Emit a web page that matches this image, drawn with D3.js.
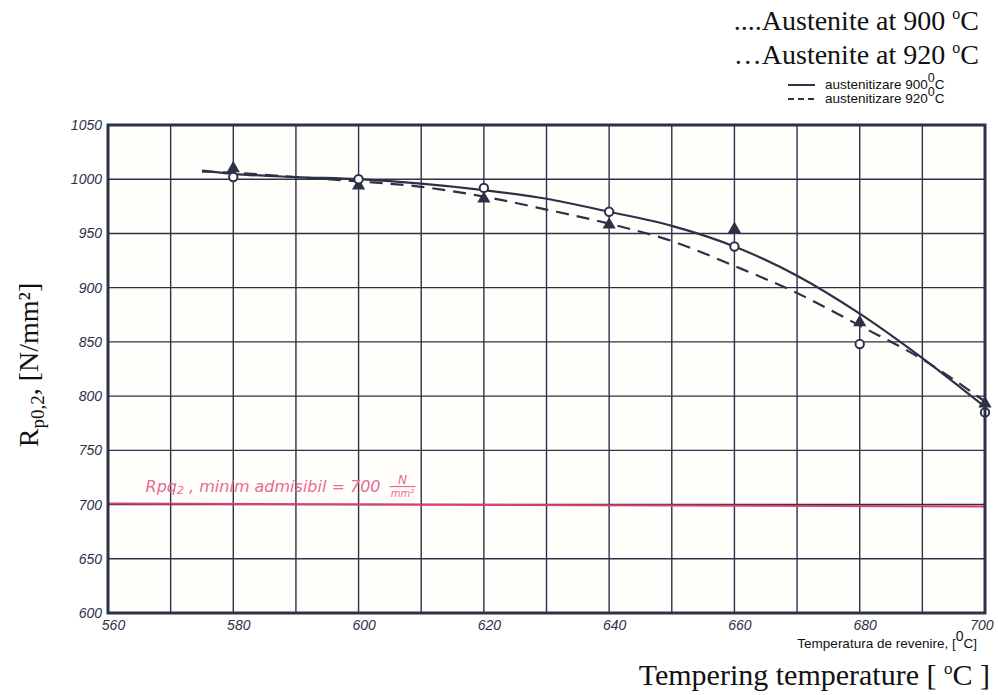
<!DOCTYPE html>
<html>
<head>
<meta charset="utf-8">
<script src="https://cdn.jsdelivr.net/npm/d3@7"></script>
<style>
  body { margin: 0; background: #fff; }
  svg { display: block; }
  .tick text { font-family: "Liberation Sans", sans-serif; font-style: italic; font-size: 14px; fill: #2c3148; }
</style>
</head>
<body>
<svg width="998" height="695"></svg>
<script>
// measured points
const temps = [580, 600, 620, 640, 660, 680, 700]
const rp900 = [1002, 1000, 992, 970, 938, 848, 785]
const rp920 = [1010, 994, 982, 958, 954, 868, 793]

// hand-drawn curves, read at every grid line
const curveTemps = [575, 580, 590, 600, 610, 620, 630, 640, 650, 660, 670, 680, 690, 700]
const curve900 = [1008, 1005, 1002, 1000, 996, 990, 982, 970, 957, 938, 911, 876, 835, 790]
const curve920 = [1007, 1006, 1002, 998, 993, 984, 972, 959, 943, 920, 895, 865, 834, 795]

const xTicks = [560, 580, 600, 620, 640, 660, 680, 700]
const yTicks = [600, 650, 700, 750, 800, 850, 900, 950, 1000, 1050]
const minLimit = 700

const ink = '#2c3148'
const pink = '#e23a72'
const pinkText = '#ea6a93'

const svg = d3.select('svg')
const margin = { top: 125, right: 13, bottom: 82, left: 108 }
const width = +svg.attr('width') - margin.left - margin.right
const height = +svg.attr('height') - margin.top - margin.bottom

const x = d3.scaleLinear().domain([560, 700]).range([0, width])
const y = d3.scaleLinear().domain([600, 1050]).range([height, 0])

const g = svg.append('g').attr('transform', `translate(${margin.left},${margin.top})`)

g.append('rect').attr('width', width).attr('height', height).attr('fill', '#fffefb')

// grid
g.selectAll('.vgrid')
  .data(d3.range(570, 700, 10))
  .enter().append('line')
  .attr('x1', d => x(d)).attr('x2', d => x(d))
  .attr('y1', 0).attr('y2', height)
  .attr('stroke', ink).attr('stroke-width', 1.4)

g.selectAll('.hgrid')
  .data(yTicks.slice(1, -1))
  .enter().append('line')
  .attr('x1', 0).attr('x2', width)
  .attr('y1', d => y(d)).attr('y2', d => y(d))
  .attr('stroke', ink).attr('stroke-width', 1.4)

// min admissible line
g.append('line')
  .attr('x1', 0).attr('x2', width)
  .attr('y1', y(minLimit) - 1).attr('y2', y(minLimit) + 2)
  .attr('stroke', pink).attr('stroke-width', 2)

const noteStyle = t => t.attr('fill', pinkText)
  .style('font-family', '"DejaVu Sans", sans-serif')
  .style('font-style', 'italic')

g.append('text')
  .attr('x', x(566)).attr('y', y(minLimit) - 13)
  .call(noteStyle)
  .style('font-size', '16px')
  .call(t => {
    t.append('tspan').text('Rpq')
    t.append('tspan').attr('font-size', '11px').attr('dy', 2).text('2')
    t.append('tspan').attr('dy', -2).text(' , minim  admisibil = 700')
  })

const fx = x(607)
g.append('text').attr('x', fx).attr('y', y(minLimit) - 21)
  .attr('text-anchor', 'middle').call(noteStyle).style('font-size', '12px')
  .text('N')
g.append('line').attr('x1', fx - 13).attr('x2', fx + 13)
  .attr('y1', y(minLimit) - 18).attr('y2', y(minLimit) - 18)
  .attr('stroke', pinkText).attr('stroke-width', 1.2)
g.append('text').attr('x', fx).attr('y', y(minLimit) - 8)
  .attr('text-anchor', 'middle').call(noteStyle).style('font-size', '10px')
  .text('mm²')

// curves
const line = d3.line().x(d => x(d[0])).y(d => y(d[1])).curve(d3.curveMonotoneX)

g.append('path')
  .datum(d3.zip(curveTemps, curve920))
  .attr('d', line)
  .attr('fill', 'none').attr('stroke', ink).attr('stroke-width', 2.2)
  .attr('stroke-dasharray', '13,8')

g.append('path')
  .datum(d3.zip(curveTemps, curve900))
  .attr('d', line)
  .attr('fill', 'none').attr('stroke', ink).attr('stroke-width', 2.2)

// markers
g.selectAll('.tri')
  .data(d3.zip(temps, rp920))
  .enter().append('path')
  .attr('d', d3.symbol(d3.symbolTriangle, 75))
  .attr('transform', d => `translate(${x(d[0])},${y(d[1])})`)
  .attr('fill', ink)

g.selectAll('.circ')
  .data(d3.zip(temps, rp900))
  .enter().append('circle')
  .attr('cx', d => x(d[0])).attr('cy', d => y(d[1])).attr('r', 4.2)
  .attr('fill', '#fff').attr('stroke', ink).attr('stroke-width', 2)

// frame
g.append('rect').attr('width', width).attr('height', height)
  .attr('fill', 'none').attr('stroke', ink).attr('stroke-width', 3)

// axes
const xAxis = g.append('g')
  .attr('transform', `translate(0,${height})`)
  .call(d3.axisBottom(x).tickValues(xTicks).tickFormat(d3.format('d')).tickSize(0).tickPadding(7))
xAxis.select('.domain').remove()
xAxis.selectAll('text')
  .attr('dx', d => d === 700 ? 8 : 5)
  .attr('text-anchor', d => d === 700 ? 'end' : 'middle')

const yAxis = g.append('g')
  .call(d3.axisLeft(y).tickValues(yTicks).tickFormat(d3.format('d')).tickSize(0).tickPadding(6))
yAxis.select('.domain').remove()

// axis titles
svg.append('text')
  .attr('transform', 'translate(38,365) rotate(-90)')
  .attr('text-anchor', 'middle')
  .style('font-family', '"Liberation Serif", serif').style('font-size', '28px').attr('fill', '#111')
  .call(t => {
    t.append('tspan').text('R')
    t.append('tspan').attr('font-size', '19px').attr('dy', 6).text('p0,2')
    t.append('tspan').attr('dy', -6).text(', [N/mm²]')
  })

svg.append('text')
  .attr('x', 977).attr('y', 648).attr('text-anchor', 'end')
  .style('font-family', '"Liberation Sans", sans-serif').style('font-size', '13.5px').attr('fill', '#111')
  .call(t => {
    t.append('tspan').text('Temperatura de revenire,   [')
    t.append('tspan').attr('dy', -7).attr('font-size', '14px').text('0')
    t.append('tspan').attr('dy', 7).text('C]')
  })

svg.append('text')
  .attr('x', 990).attr('y', 685).attr('text-anchor', 'end')
  .style('font-family', '"Liberation Serif", serif').style('font-size', '30px').attr('fill', '#111')
  .call(t => {
    t.append('tspan').text('Tempering temperature  [ ')
    t.append('tspan').attr('dy', -11).attr('font-size', '17px').text('o')
    t.append('tspan').attr('dy', 11).text('C ]')
  })

// titles and legend
const titles = [['....Austenite at 900 ', 30], ['…Austenite at 920 ', 64]]
titles.forEach(([label, yy]) => {
  svg.append('text')
    .attr('x', 979).attr('y', yy).attr('text-anchor', 'end')
    .style('font-family', '"Liberation Serif", serif').style('font-size', '28px').attr('fill', '#111')
    .call(t => {
      t.append('tspan').text(label)
      t.append('tspan').attr('dy', -11).attr('font-size', '16px').text('o')
      t.append('tspan').attr('dy', 11).text('C')
    })
})

const legend = [['austenitizare 900', null, 85], ['austenitizare 920', '6,4', 99]]
legend.forEach(([label, dash, yy]) => {
  svg.append('line')
    .attr('x1', 788).attr('x2', 815).attr('y1', yy).attr('y2', yy)
    .attr('stroke', ink).attr('stroke-width', 2)
    .attr('stroke-dasharray', dash)
  svg.append('text')
    .attr('x', 825).attr('y', yy + 4)
    .style('font-family', '"Liberation Sans", sans-serif').style('font-size', '13.5px').attr('fill', '#111')
    .call(t => {
      t.append('tspan').text(label)
      t.append('tspan').attr('dy', -7).attr('font-size', '12.5px').text('0')
      t.append('tspan').attr('dy', 7).text('C')
    })
})
</script>
</body>
</html>
